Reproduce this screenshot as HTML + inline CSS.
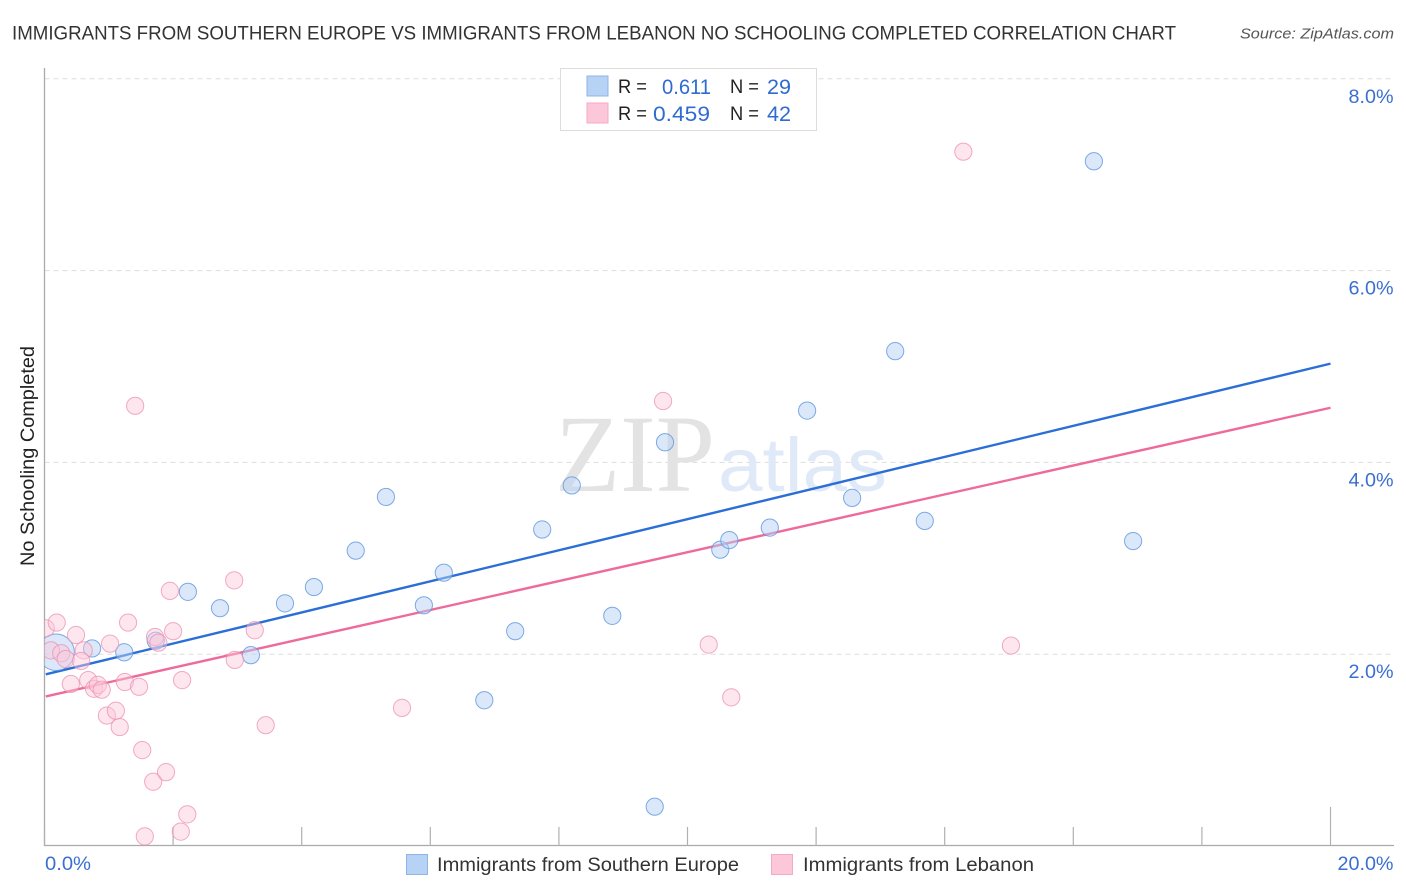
<!DOCTYPE html>
<html lang="en">
<head>
<meta charset="utf-8">
<title>Immigrants from Southern Europe vs Immigrants from Lebanon No Schooling Completed Correlation Chart</title>
<style>
html,body{margin:0;padding:0;background:#fff;width:1406px;height:892px;overflow:hidden}
svg{display:block}
text{font-family:"Liberation Sans",sans-serif}
</style>
</head>
<body>
<svg id="chart" xmlns="http://www.w3.org/2000/svg" width="1406" height="892" viewBox="0 0 1406 892">
  <defs>
    <clipPath id="plot-clip"><rect x="44.5" y="60" width="1350" height="786"/></clipPath>
  </defs>
  <text x="12" y="39.5" font-size="19.5" fill="#333" textLength="1164" lengthAdjust="spacingAndGlyphs">IMMIGRANTS FROM SOUTHERN EUROPE VS IMMIGRANTS FROM LEBANON NO SCHOOLING COMPLETED CORRELATION CHART</text>
  <text x="1394" y="38.5" font-size="15" font-style="italic" fill="#555" text-anchor="end" textLength="154" lengthAdjust="spacingAndGlyphs">Source: ZipAtlas.com</text>

  <g id="grid"></g>

  <g>
    <text x="555" y="491" style="font-family:'Liberation Serif',serif" font-size="110" fill="#e3e3e3" textLength="160" lengthAdjust="spacingAndGlyphs">ZIP</text>
    <text x="718" y="491" font-size="76" fill="#dfe9f8" textLength="169" lengthAdjust="spacingAndGlyphs">atlas</text>
  </g>

  <g id="axes"></g>
  <g id="trends"></g>
  <g id="points" clip-path="url(#plot-clip)"></g>
  <g id="yLabels"></g>
  <g id="xLabels"></g>

  <text transform="translate(34,456) rotate(-90)" font-size="19" fill="#222" text-anchor="middle" textLength="220" lengthAdjust="spacingAndGlyphs">No Schooling Completed</text>

  <g>
    <rect x="560.5" y="68.5" width="256" height="62" fill="#fff" stroke="#dcdcdc" stroke-width="1"/>
    <rect x="587" y="76" width="21" height="20" fill="#b6d2f5" stroke="#8fb4e6" stroke-width="1"/>
    <rect x="587" y="103" width="21" height="20" fill="#fcc8d9" stroke="#f5a9c3" stroke-width="1"/>
    <text x="618" y="93" font-size="19" fill="#222" textLength="29" lengthAdjust="spacingAndGlyphs">R =</text>
    <text x="662" y="94" font-size="21" fill="#2f6bd0" textLength="49" lengthAdjust="spacingAndGlyphs">0.611</text>
    <text x="730" y="93" font-size="19" fill="#222" textLength="29" lengthAdjust="spacingAndGlyphs">N =</text>
    <text x="767" y="94" font-size="21" fill="#2f6bd0" textLength="24" lengthAdjust="spacingAndGlyphs">29</text>
    <text x="618" y="120" font-size="19" fill="#222" textLength="29" lengthAdjust="spacingAndGlyphs">R =</text>
    <text x="653" y="121" font-size="21" fill="#2f6bd0" textLength="57" lengthAdjust="spacingAndGlyphs">0.459</text>
    <text x="730" y="120" font-size="19" fill="#222" textLength="29" lengthAdjust="spacingAndGlyphs">N =</text>
    <text x="767" y="121" font-size="21" fill="#2f6bd0" textLength="24" lengthAdjust="spacingAndGlyphs">42</text>
  </g>

  <g>
    <rect x="406.5" y="854.5" width="21" height="20" fill="#b6d2f5" stroke="#8fb4e6" stroke-width="1"/>
    <text x="437" y="871" font-size="19.5" fill="#333" textLength="302" lengthAdjust="spacingAndGlyphs">Immigrants from Southern Europe</text>
    <rect x="771.5" y="854.5" width="21" height="20" fill="#fcc8d9" stroke="#f5a9c3" stroke-width="1"/>
    <text x="803" y="871" font-size="19.5" fill="#333" textLength="231" lengthAdjust="spacingAndGlyphs">Immigrants from Lebanon</text>
  </g>
</svg>

<script>
const blueX = [0.18,0.74,1.24,1.73,2.23,2.73,3.21,3.74,4.19,4.84,5.31,5.90,6.21,6.84,7.32,7.74,8.20,8.83,9.49,9.65,10.51,10.65,11.28,11.86,12.56,13.23,13.69,16.32,16.93];
const blueY = [2.02,2.06,2.02,2.14,2.65,2.48,1.99,2.53,2.70,3.08,3.64,2.51,2.85,1.52,2.24,3.30,3.76,2.40,0.41,4.21,3.09,3.19,3.32,4.54,3.63,5.16,3.39,7.14,3.18];
const blueWeight = [4.5,1,1,1,1,1,1,1,1,1,1,1,1,1,1,1,1,1,1,1,1,1,1,1,1,1,1,1,1];

const pinkX = [0.02,0.19,0.10,0.26,0.33,0.41,0.49,0.61,0.57,0.68,0.77,0.83,0.89,1.02,0.97,1.11,1.17,1.25,1.30,1.47,1.41,1.52,1.69,1.56,1.72,1.77,1.89,1.95,2.00,2.14,2.12,2.22,2.95,2.96,3.27,3.44,5.56,9.62,10.33,10.68,14.29,15.03];
const pinkY = [2.27,2.33,2.04,2.01,1.95,1.69,2.20,2.04,1.93,1.73,1.64,1.68,1.63,2.11,1.36,1.41,1.24,1.71,2.33,1.66,4.59,1.00,0.67,0.10,2.18,2.12,0.77,2.66,2.24,1.73,0.15,0.33,2.77,1.94,2.25,1.26,1.44,4.64,2.10,1.55,7.24,2.09];

const blueTrendX = [0.02,20];
const blueTrendY = [1.79,5.03];
const pinkTrendX = [0.02,20];
const pinkTrendY = [1.56,4.57];

const yTicks = [2,4,6,8];
const yTickLabels = ["2.0%","4.0%","6.0%","8.0%"];
const xTicks = [0,2,4,6,8,10,12,14,16,18,20];
const xEndTicks = [0,20];
const xEndLabels = ["0.0%","20.0%"];

function sx(v){ return 44.5 + v * 64.3; }
function sy(v){ return 846 - v * 95.9; }

const NS = "http://www.w3.org/2000/svg";
function make(tag, parent, attrs){
  const el = document.createElementNS(NS, tag);
  for (const k in attrs) el.setAttribute(k, attrs[k]);
  parent.appendChild(el);
  return el;
}

const grid = document.getElementById("grid");
yTicks.forEach(function(t){
  const gridLine = make("line", grid, {x1: 44.5, x2: 1394, y1: sy(t), y2: sy(t), stroke: "#dddddd", "stroke-width": 1, "stroke-dasharray": "5 4"});
  
  
});

const axes = document.getElementById("axes");
const yAxisLine = make("line", axes, {x1: 44.5, x2: 44.5, y1: 68, y2: 846, stroke: "#aaaaaa", "stroke-width": 1.3});


const xAxisLine = make("line", axes, {x1: 44, x2: 1394, y1: 845.5, y2: 845.5, stroke: "#aaaaaa", "stroke-width": 1.3});


xTicks.forEach(function(t){
  const major = t === 20;
  const tick = make("line", axes, {x1: sx(t), x2: sx(t), y1: major ? 807 : 827, y2: 846, stroke: "#b0b0b0", "stroke-width": 1.2});
  
  
});

const trends = document.getElementById("trends");
const blueTrend = make("line", trends, {x1: sx(blueTrendX[0]), y1: sy(blueTrendY[0]), x2: sx(blueTrendX[1]), y2: sy(blueTrendY[1]), stroke: "#2b6fd6", "stroke-width": 2.4});


const pinkTrend = make("line", trends, {x1: sx(pinkTrendX[0]), y1: sy(pinkTrendY[0]), x2: sx(pinkTrendX[1]), y2: sy(pinkTrendY[1]), stroke: "#ee6a9b", "stroke-width": 2.4});



const points = document.getElementById("points");
blueX.forEach(function(x, i){
  const dot = make("circle", points, {cx: sx(x), cy: sy(blueY[i]), r: 8.6 * Math.sqrt(blueWeight[i]), fill: "#b6d2f5", "fill-opacity": 0.5, stroke: "#5f96e0", "stroke-width": 1, "stroke-opacity": 0.8});
  
  
});
pinkX.forEach(function(x, i){
  const dot = make("circle", points, {cx: sx(x), cy: sy(pinkY[i]), r: 8.6, fill: "#fcc8d9", "fill-opacity": 0.45, stroke: "#ec8fb0", "stroke-width": 1, "stroke-opacity": 0.75});
  
  
});

const yLabels = document.getElementById("yLabels");
yTicks.forEach(function(t, i){
  const label = make("text", yLabels, {x: 1393.5, y: sy(t) + 24, "font-size": 19.5, fill: "#3a6fd0", "text-anchor": "end", textLength: 45, lengthAdjust: "spacingAndGlyphs"});
  label.textContent = yTickLabels[i];
  
  
});

const xLabels = document.getElementById("xLabels");
xEndTicks.forEach(function(t, i){
  const isLast = i === xEndTicks.length - 1;
  const label = make("text", xLabels, {x: isLast ? 1393.5 : sx(t) + 0.5, y: 870, "font-size": 19.5, fill: "#3a6fd0", "text-anchor": isLast ? "end" : "start", textLength: isLast ? 56 : 46, lengthAdjust: "spacingAndGlyphs"});
  label.textContent = xEndLabels[i];
  
  
});
</script>
</body>
</html>
